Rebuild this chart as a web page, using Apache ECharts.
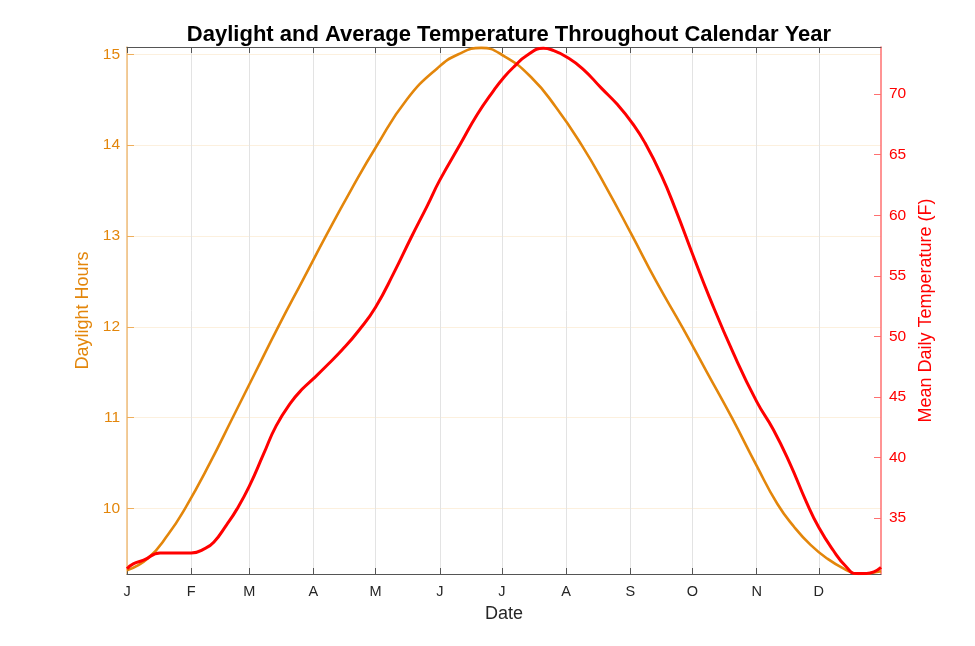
<!DOCTYPE html>
<html>
<head>
<meta charset="utf-8">
<script src="https://cdn.jsdelivr.net/npm/echarts@6/dist/echarts.min.js"></script>
<style>html,body{margin:0;padding:0;background:#fff;}#c{width:975px;height:646px;}</style>
</head>
<body>
<div id="c"></div>
<script>
// Month start days (day of year, 0 = Jan 1) and labels
const monthDays = [0, 31, 59, 90, 120, 151, 181, 212, 243, 273, 304, 334];
const monthLabels = ['J', 'F', 'M', 'A', 'M', 'J', 'J', 'A', 'S', 'O', 'N', 'D'];

// Daylight hours
const daylightDays = [0, 10, 20, 28, 40, 51, 62, 73, 85, 96.5, 108, 120.5, 135, 150, 160, 171, 182, 195, 207, 219.5, 231, 243.5, 255.5, 268, 280, 292, 304, 314, 322, 330, 338, 346, 353, 364];
const daylightHours = [9.32, 9.45, 9.72, 10.0, 10.5, 11.0, 11.5, 12.0, 12.52, 13.02, 13.5, 13.99, 14.5, 14.85, 15.0, 15.07, 14.98, 14.75, 14.42, 14.0, 13.55, 13.02, 12.5, 12.0, 11.5, 11.0, 10.47, 10.05, 9.80, 9.60, 9.45, 9.34, 9.28, 9.31];

// Mean daily temperature (F)
const tempDays = [0, 3, 8, 16, 31, 38, 42, 48, 53, 59, 66, 72, 79, 85, 90, 96, 104, 112, 120, 129, 137, 145, 151, 161, 169, 177, 182, 187, 193, 201, 206, 212, 220, 229, 237, 244, 250, 258, 265, 273, 281, 293, 304, 312, 320, 328, 334, 341, 347, 352, 357, 364];
const tempValues = [30.8, 31.2, 31.5, 32.1, 32.1, 32.5, 33.0, 34.4, 35.7, 37.6, 40.3, 42.6, 44.5, 45.7, 46.5, 47.5, 48.9, 50.5, 52.4, 55.3, 58.1, 60.8, 62.9, 65.9, 68.3, 70.3, 71.4, 72.3, 73.2, 73.8, 73.6, 73.1, 72.1, 70.5, 69.1, 67.6, 66.0, 63.3, 60.4, 56.8, 53.3, 48.5, 44.6, 42.3, 39.5, 36.3, 34.2, 32.3, 31.0, 30.4, 30.4, 30.9];

const hourTicks = [10, 11, 12, 13, 14, 15];
const tempTicks = [35, 40, 45, 50, 55, 60, 65, 70];

const ORANGE = '#E3860B';
const RED = '#FF0000';
const FONT = 'Liberation Sans, Arial, sans-serif';

const chart = echarts.init(document.getElementById('c'));
const monthName = {};
monthDays.forEach((d, i) => monthName[d] = monthLabels[i]);

chart.setOption({
  animation: false,
  backgroundColor: '#fff',
  title: {
    text: 'Daylight and Average Temperature Throughout Calendar Year',
    left: 504, top: 19, textAlign: 'center',
    textStyle: { fontFamily: FONT, fontSize: 22, fontWeight: 'bold', color: '#000' }
  },
  grid: { left: 127, right: 94, top: 47, bottom: 72 },
  xAxis: [{
    type: 'value', min: 0, max: 364, position: 'bottom',
    name: 'Date', nameLocation: 'middle', nameGap: 31,
    nameTextStyle: { fontFamily: FONT, fontSize: 18, color: '#262626' },
    axisLine: { show: true, onZero: false, lineStyle: { color: '#555', width: 1 } },
    axisTick: { show: true, inside: true, length: 6, customValues: monthDays, lineStyle: { color: '#555' } },
    axisLabel: { customValues: monthDays, formatter: v => monthName[v] || '', fontFamily: FONT, fontSize: 14.5, color: '#262626', margin: 10 },
    splitLine: { show: true, lineStyle: { color: '#e3e3e3', width: 1 } }
  }, {
    type: 'value', min: 0, max: 364, position: 'top',
    axisLine: { show: true, onZero: false, lineStyle: { color: '#555', width: 1 } },
    axisTick: { show: true, inside: true, length: 6, customValues: monthDays, lineStyle: { color: '#555' } },
    axisLabel: { show: false },
    splitLine: { show: false }
  }],
  yAxis: [{
    type: 'value', min: 9.28, max: 15.08, position: 'left',
    name: 'Daylight Hours', nameLocation: 'middle', nameGap: 30, nameRotate: 90,
    nameTextStyle: { fontFamily: FONT, fontSize: 18, color: ORANGE },
    axisLine: { show: true, onZero: false, lineStyle: { color: '#F2BE7A', width: 1.5 } },
    axisTick: { show: true, inside: true, length: 7, customValues: hourTicks, lineStyle: { color: '#EFAE5A' } },
    axisLabel: { customValues: hourTicks, fontFamily: FONT, fontSize: 15.5, color: ORANGE, margin: 7 },
    splitLine: { show: true, lineStyle: { color: '#FCF0DE', width: 1 } }
  }, {
    type: 'value', min: 30.36, max: 73.9, position: 'right',
    name: 'Mean Daily Temperature (F)', nameLocation: 'middle', nameGap: 36, nameRotate: 90,
    nameTextStyle: { fontFamily: FONT, fontSize: 18, color: RED },
    axisLine: { show: true, onZero: false, lineStyle: { color: '#FF7070', width: 1.5 } },
    axisTick: { show: true, inside: true, length: 7, customValues: tempTicks, lineStyle: { color: '#FF7070' } },
    axisLabel: { customValues: tempTicks, fontFamily: FONT, fontSize: 15.5, color: RED, margin: 8 },
    splitLine: { show: false }
  }],
  series: [{
    name: 'Daylight', type: 'line', xAxisIndex: 0, yAxisIndex: 0,
    data: daylightDays.map((d, i) => [d, daylightHours[i]]),
    smooth: 0.5, showSymbol: false, symbol: 'none',
    lineStyle: { color: ORANGE, width: 2.6 }
  }, {
    name: 'Temperature', type: 'line', xAxisIndex: 0, yAxisIndex: 1,
    data: tempDays.map((d, i) => [d, tempValues[i]]),
    smooth: 0.5, showSymbol: false, symbol: 'none',
    lineStyle: { color: RED, width: 3 }
  }]
});
</script>
</body>
</html>
